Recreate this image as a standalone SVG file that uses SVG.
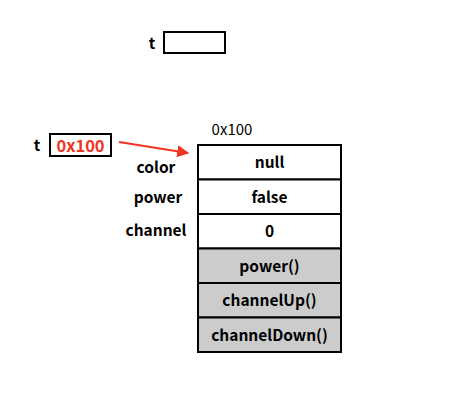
<svg xmlns="http://www.w3.org/2000/svg" width="467" height="402" viewBox="0 0 467 402">
<style>
text{font-family:"Noto Sans CJK KR","Noto Sans",sans-serif;font-size:15.5px;font-weight:bold;fill:#000;text-anchor:middle}
.box{fill:#fff;stroke:#000;stroke-width:2}
.m{fill:#cccccc;stroke:#000;stroke-width:2}
.addr{font-weight:normal;font-size:15px}
</style>
<defs>
<marker id="ah" viewBox="0 0 10 10" refX="9" refY="5" markerWidth="6" markerHeight="6" orient="auto" markerUnits="strokeWidth">
<path d="M0,0 L10,5 L0,10 z" fill="#ee3322"/>
</marker>
</defs>
<g id="var-t-empty">
<text x="152" y="49">t</text>
<rect class="box" x="164" y="32" width="61" height="21"/>
</g>
<g id="var-t-ref">
<text x="37" y="151">t</text>
<rect class="box" x="50" y="134" width="61" height="22"/>
<text x="80.5" y="151.5" style="fill:#ee3322;font-size:16.5px">0x100</text>
</g>
<g id="object">
<text class="addr" x="232" y="135">0x100</text>
<text x="156" y="173">color</text>
<text x="158" y="203">power</text>
<text x="156" y="236">channel</text>
<rect class="box" x="198" y="145" width="143" height="34.5"/>
<text x="269.5" y="168">null</text>
<rect class="box" x="198" y="179.5" width="143" height="34.5"/>
<text x="269.5" y="202.5">false</text>
<rect class="box" x="198" y="214" width="143" height="34.5"/>
<text x="269.5" y="237">0</text>
<rect class="m" x="198" y="248.5" width="143" height="34.5"/>
<text x="269.5" y="271.5">power()</text>
<rect class="m" x="198" y="283" width="143" height="34.5"/>
<text x="269.5" y="306">channelUp()</text>
<rect class="m" x="198" y="317.5" width="143" height="34.5"/>
<text x="269.5" y="340.5">channelDown()</text>
</g>
<g id="connectors">
<line x1="119" y1="142" x2="188" y2="153" stroke="#ee3322" stroke-width="2" marker-end="url(#ah)"/>
</g>
</svg>
